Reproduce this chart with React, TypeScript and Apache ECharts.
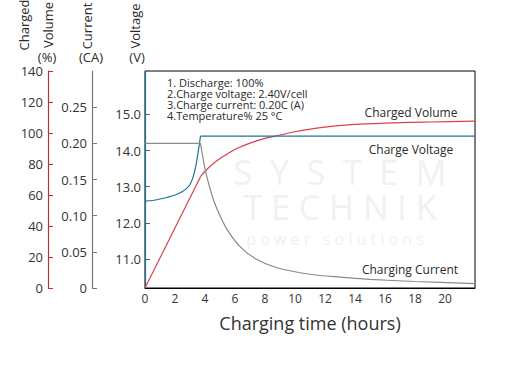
import React, { useEffect, useRef } from "react";
import * as echarts from "echarts";

// ---- data ----
const hourTicks = [0, 2, 4, 6, 8, 10, 12, 14, 16, 18, 20];
const voltageTicks = [11, 12, 13, 14, 15];

// Charged volume (%)
const volumeLinearHours = [0, 3.7];
const volumeLinearValues = [0, 71.8];
const volumeCurveHours = [3.7, 4.0, 4.5, 5.0, 5.7, 6.2, 7.0, 8.0, 8.67, 10, 11.7, 13.5, 16, 19, 22];
const volumeCurveValues = [71.8, 75.3, 79.8, 83.5, 87.8, 90.3, 93.5, 96.5, 98, 100.8, 103.5, 105.2, 106.4, 107.1, 107.6];

// Charge voltage (V)
const voltageRiseHours = [0, 0.5, 1, 1.5, 2, 2.5, 2.8, 3.0, 3.2, 3.4, 3.55, 3.65, 3.7];
const voltageRiseValues = [12.6, 12.62, 12.66, 12.71, 12.77, 12.87, 12.96, 13.06, 13.26, 13.6, 13.98, 14.25, 14.4];
const voltageFlatHours = [3.7, 22];
const voltageFlatValues = [14.4, 14.4];

// Charging current (CA)
const currentFlatHours = [0, 3.7];
const currentFlatValues = [0.2, 0.2];
const currentDecayHours = [3.7, 4.0, 4.3, 4.6, 5.0, 5.5, 6.3, 7.4, 8.8, 11, 13, 15, 18, 22];
const currentDecayValues = [0.2, 0.165, 0.14, 0.12, 0.1, 0.08, 0.058, 0.04, 0.028, 0.019, 0.015, 0.012, 0.009, 0.006];

const notes = [
  "1. Discharge: 100%",
  "2.Charge voltage: 2.40V/cell",
  "3.Charge current: 0.20C (A)",
  "4.Temperature% 25 °C",
];

const RED = "#d9404c";
const TEAL = "#1f7391";
const GRAY = "#8a8a8a";
const FONT = "Open Sans";
const TXT = "#2a2a2a";

const pairs = (xs: number[], ys: number[]) => xs.map((x, i) => [x, ys[i]]);

export default function App() {
  const ref = useRef<HTMLDivElement>(null);
  useEffect(() => {
    if (!ref.current) return;
    const chart = echarts.init(ref.current, null, { renderer: "svg" });
    const lineBase = (name: string, color: string, yAxisIndex: number, data: number[][], smooth: boolean) => ({
      name,
      type: "line",
      yAxisIndex,
      data,
      smooth: smooth ? 0.3 : false,
      showSymbol: false,
      symbol: "none",
      lineStyle: { color, width: 1.2 },
      itemStyle: { color },
      z: 3,
    });
    const vertText = (text: string, x: number, y: number) => ({
      type: "text",
      x,
      y,
      rotation: Math.PI / 2,
      style: { text, fill: TXT, font: `13px "${FONT}"`, align: "center", verticalAlign: "middle" },
    });
    const hText = (text: string, x: number, y: number, size = 13, align = "center") => ({
      type: "text",
      x,
      y,
      style: { text, fill: TXT, font: `${size}px "${FONT}"`, align, verticalAlign: "middle" },
    });
    const mark = (text: string, x: number, y: number, size: number) => ({
      type: "text",
      x,
      y,
      z: 0,
      silent: true,
      style: { text, fill: "#f1f1f1", font: `${size}px "${FONT}"`, align: "center", verticalAlign: "middle" },
    });
    chart.setOption({
      animation: false,
      textStyle: { fontFamily: FONT },
      grid: {
        left: 145,
        top: 71,
        right: 35,
        bottom: 83,
        show: true,
        borderColor: "#000",
        borderWidth: 1,
        backgroundColor: "transparent",
      },
      xAxis: {
        type: "value",
        min: 0,
        max: 22,
        interval: 2,
        axisLine: { lineStyle: { color: "#000", width: 1 } },
        axisTick: { show: false },
        splitLine: { show: false },
        axisLabel: {
          showMaxLabel: false,
          color: "#333",
          fontSize: 12,
          margin: 4,
          formatter: (v: number) => (hourTicks.includes(v) ? String(v) : ""),
        },
        name: "Charging time (hours)",
        nameLocation: "middle",
        nameGap: 26,
        nameTextStyle: { color: "#333", fontSize: 18, fontFamily: FONT },
      },
      yAxis: [
        {
          type: "value",
          position: "left",
          offset: 0,
          min: 10.2,
          max: 16.2,
          axisLine: { show: true, lineStyle: { color: TEAL, width: 1.2 } },
          axisTick: { show: true, inside: true, length: 5, customValues: voltageTicks, lineStyle: { color: TEAL } },
          axisLabel: {
            customValues: voltageTicks,
            formatter: (v: number) => v.toFixed(1),
            color: "#333",
            fontSize: 13,
            margin: 4,
          },
          splitLine: { show: false },
        },
        {
          type: "value",
          position: "left",
          offset: 53,
          min: 0,
          max: 0.3,
          interval: 0.05,
          axisLine: { show: true, lineStyle: { color: "#777", width: 1.2 } },
          axisTick: { show: true, inside: true, length: 5, lineStyle: { color: "#777" } },
          axisLabel: {
            showMaxLabel: false,
            formatter: (v: number) => (v === 0 ? "0" : v.toFixed(2)),
            color: "#333",
            fontSize: 13,
            margin: 5,
          },
          splitLine: { show: false },
        },
        {
          type: "value",
          position: "left",
          offset: 97,
          min: 0,
          max: 140,
          interval: 20,
          axisLine: { show: true, lineStyle: { color: "#b8323f", width: 1.2 } },
          axisTick: { show: true, inside: true, length: 5, lineStyle: { color: "#b8323f" } },
          axisLabel: { color: "#333", fontSize: 13, margin: 5 },
          splitLine: { show: false },
        },
      ],
      series: [
        lineBase("Charged Volume", RED, 2, pairs(volumeLinearHours, volumeLinearValues), false),
        lineBase("Charged Volume ", RED, 2, pairs(volumeCurveHours, volumeCurveValues), true),
        lineBase("Charge Voltage", TEAL, 0, pairs(voltageRiseHours, voltageRiseValues), true),
        lineBase("Charge Voltage ", TEAL, 0, pairs(voltageFlatHours, voltageFlatValues), false),
        lineBase("Charging Current", GRAY, 1, pairs(currentFlatHours, currentFlatValues), false),
        lineBase("Charging Current ", GRAY, 1, pairs(currentDecayHours, currentDecayValues), true),
      ],
      graphic: [
        // faint watermark
        mark("S  Y  S  T  E  M", 340, 172, 34),
        mark("T E C H N I K", 340, 207, 34),
        mark("p o w e r   s o l u t i o n s", 335, 239, 16),
        vertText("Charged", 24, 25),
        vertText("Volume", 48, 25),
        hText("(%)", 47, 57),
        vertText("Current", 87, 26),
        hText("(CA)", 91, 57),
        vertText("Voltage", 135, 26),
        hText("(V)", 137, 57),
        {
          type: "text",
          x: 167,
          y: 76.5,
          style: {
            text: notes.join("\n"),
            fill: TXT,
            font: `11px "${FONT}"`,
            lineHeight: 11,
            align: "left",
            verticalAlign: "top",
          },
        },
        hText("Charged Volume", 411, 112, 12),
        hText("Charge Voltage", 411, 149, 12),
        hText("Charging Current", 410, 269, 12),
      ],
    });
    return () => chart.dispose();
  }, []);
  return <div ref={ref} style={{ position: "fixed", left: 0, top: 0, width: 510, height: 371, background: "#fff" }} />;
}
